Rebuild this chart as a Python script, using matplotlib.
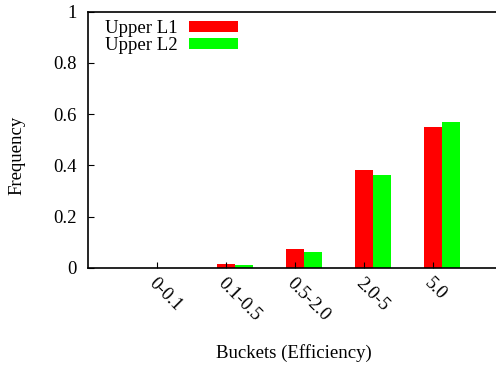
import matplotlib
matplotlib.use("Agg")
import matplotlib.pyplot as plt
import numpy as np

categories = ["0-0.1", "0.1-0.5", "0.5-2.0", "2.0-5", "5.0"]
upper_l1 = [0.0, 0.014, 0.073, 0.382, 0.55]
upper_l2 = [0.0, 0.012, 0.062, 0.363, 0.57]
series_names = ["Upper L1", "Upper L2"]
yticks = [0, 0.2, 0.4, 0.6, 0.8, 1]
ytick_labels = ["0", "0.2", "0.4", "0.6", "0.8", "1"]

plt.rcParams['font.family'] = ['Liberation Serif', 'DejaVu Serif']
fs = 13.5

fig = plt.figure(figsize=(4.96, 3.68), dpi=100)
ax_w_px = 496 - 88 + 6
ax = fig.add_axes([88/496, (368-268)/368, ax_w_px/496, (268-11.5)/368])

x = np.arange(len(categories))
w = 0.26
ax.bar(x, upper_l1, width=w, color="#ff0000", label=series_names[0], linewidth=0)
ax.bar(x + w, upper_l2, width=w, color="#00ff00", label=series_names[1], linewidth=0)

ax.set_xlim(-1, 5)
ax.set_ylim(0, 1)
ax.set_yticks(yticks)
ax.set_yticklabels(ytick_labels, fontsize=fs)
ax.set_xticks(x)
ax.set_xticklabels(categories, fontsize=fs, rotation=-45, ha='left', va='top',
                   rotation_mode='anchor')
ax.tick_params(axis='both', direction='in', length=4, width=0.8, color='black')
ax.tick_params(axis='y', pad=8)
ax.tick_params(axis='x', pad=5)
for s in ['left', 'bottom', 'top']:
    ax.spines[s].set_linewidth(1.2)
ax.spines['right'].set_visible(False)

ax.set_xlabel("Buckets (Efficiency)", fontsize=fs, va='center')
ax.xaxis.set_label_coords((294 - 88) / ax_w_px, (268 - 353) / 256.5)
ax.set_ylabel("Frequency", fontsize=fs, va='center')
ax.yaxis.set_label_coords((17 - 88) / ax_w_px, (268 - 155) / 256.5)

leg = ax.legend(loc='upper left', bbox_to_anchor=(105/496, 1 - 20/368),
                bbox_transform=fig.transFigure, frameon=False, fontsize=fs,
                markerfirst=False, handlelength=2.6, handleheight=0.5,
                handletextpad=0.6, labelspacing=0.0, borderpad=0.0,
                borderaxespad=0.0)

fig.savefig("out.png", dpi=100)
